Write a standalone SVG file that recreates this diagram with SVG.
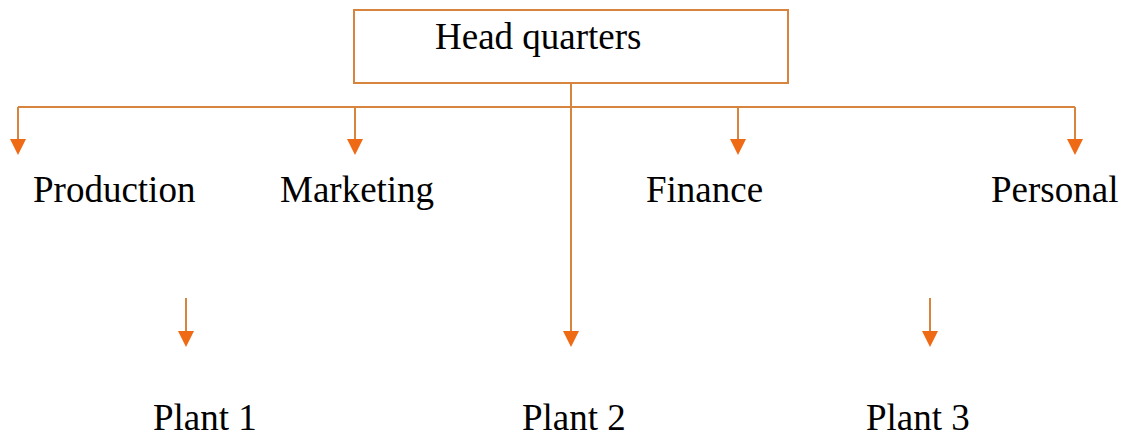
<svg xmlns="http://www.w3.org/2000/svg" width="1123" height="436" viewBox="0 0 1123 436">
<style>
.ln{stroke:#D6843E;stroke-width:2;fill:none}
.t{font-family:"Liberation Serif","Times New Roman",serif;font-size:37px;fill:#000}
</style>
<defs>
<marker id="ah" markerUnits="userSpaceOnUse" markerWidth="18" markerHeight="18" viewBox="0 -9 18 18" refX="7" refY="0" orient="auto">
<path d="M0,-8 L16,0 L0,8 z" fill="#EE6A14"/>
</marker>
</defs>
<rect width="1123" height="436" fill="#fff"/>
<g id="hq">
<rect class="ln" x="354" y="10" width="434" height="73"/>
<text class="t" x="435" y="49">Head quarters</text>
</g>
<g id="connectors">
<path class="ln" d="M18,107 H1075"/>
<path class="ln" d="M18,107 V146" marker-end="url(#ah)"/>
<path class="ln" d="M355,107 V146" marker-end="url(#ah)"/>
<path class="ln" d="M738,107 V146" marker-end="url(#ah)"/>
<path class="ln" d="M1075,107 V146" marker-end="url(#ah)"/>
<path class="ln" d="M571,83 V338" marker-end="url(#ah)"/>
<path class="ln" d="M186,298 V338" marker-end="url(#ah)"/>
<path class="ln" d="M930,298 V338" marker-end="url(#ah)"/>
</g>
<g id="production"><text class="t" x="33" y="202">Production</text></g>
<g id="marketing"><text class="t" x="280" y="202">Marketing</text></g>
<g id="finance"><text class="t" x="646" y="202">Finance</text></g>
<g id="personal"><text class="t" x="991" y="202">Personal</text></g>
<g id="plant1"><text class="t" x="153" y="430">Plant 1</text></g>
<g id="plant2"><text class="t" x="522" y="430">Plant 2</text></g>
<g id="plant3"><text class="t" x="866" y="430">Plant 3</text></g>
</svg>
